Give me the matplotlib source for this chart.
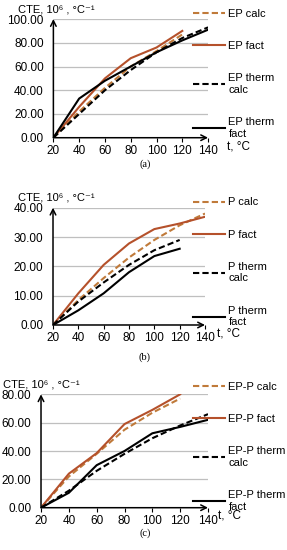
import matplotlib.pyplot as plt
from matplotlib.ticker import FormatStrFormatter

plt.rcParams['font.family'] = ['Liberation Sans Narrow', 'Liberation Sans', 'DejaVu Sans']

# temperature, degC
t = [20, 40, 60, 80, 100, 120, 140]

# (a) EP
ep_calc = [0, 22, 42, 60, 73, 87]
ep_fact = [0, 26, 50, 67, 76, 90]
ep_therm_calc = [0, 20, 40, 57, 72, 84, 93]
ep_therm_fact = [0, 33, 48, 60, 72, 82, 91]

# (b) P
p_calc = [0, 8.5, 16, 23, 29, 34, 38]
p_fact = [0, 10.8, 20.5, 27.8, 32.7, 34.6, 36.9]
p_therm_calc = [0, 8, 14.5, 20.5, 25.5, 29]
p_therm_fact = [0, 5, 10.8, 18, 23.5, 26]

# (c) EP-P
epp_calc = [0, 22, 38, 55, 67, 77]
epp_fact = [0, 24, 38.5, 59, 69, 80]
epp_therm_calc = [0, 12, 26, 38, 49, 58, 66]
epp_therm_fact = [0, 10.5, 30, 40, 52.5, 57, 62]

calc_color = '#C07A3A'
fact_color = '#B5512B'
dash = (0, (3, 1.5))

panels = [
    dict(name='EP', series=[ep_calc, ep_fact, ep_therm_calc, ep_therm_fact],
         ymax=100, ystep=20, rect=[0.186, 0.7496, 0.539, 0.2158],
         leg=(0.672, 0.984), tlabel=1.12, letter='(a)', ly=0.701),
    dict(name='P', series=[p_calc, p_fact, p_therm_calc, p_therm_fact],
         ymax=40, ystep=10, rect=[0.1847, 0.4091, 0.5296, 0.2133],
         leg=(0.672, 0.641), tlabel=1.08, letter='(b)', ly=0.350),
    dict(name='EP-P', series=[epp_calc, epp_fact, epp_therm_calc, epp_therm_fact],
         ymax=80, ystep=20, rect=[0.1429, 0.0769, 0.5819, 0.2062],
         leg=(0.672, 0.306), tlabel=1.06, letter='(c)', ly=0.030),
]

fig = plt.figure(figsize=(2.87, 5.5), dpi=100)
fs = 8.5

for p in panels:
    ax = fig.add_axes(p['rect'])
    calc, fact, tcalc, tfact = p['series']
    n = p['name']
    ax.plot(t[:len(calc)], calc, color=calc_color, lw=1.5, linestyle=dash, label=n + ' calc')
    ax.plot(t[:len(fact)], fact, color=fact_color, lw=1.5, label=n + ' fact')
    ax.plot(t[:len(tcalc)], tcalc, color='black', lw=1.5, linestyle=dash, label=n + ' therm\ncalc')
    ax.plot(t[:len(tfact)], tfact, color='black', lw=1.5, label=n + ' therm\nfact')

    ax.set_xlim(20, 140)
    ax.set_ylim(0, p['ymax'])
    ax.set_xticks(t)
    ax.set_yticks(range(0, p['ymax'] + 1, p['ystep']))
    ax.yaxis.set_major_formatter(FormatStrFormatter('%.2f'))
    ax.tick_params(axis='y', length=0, pad=7, labelsize=fs)
    ax.tick_params(axis='x', length=3, width=0.8, pad=2, labelsize=fs)
    ax.grid(axis='y', color='#BFBFBF', lw=0.9)
    ax.set_axisbelow(True)
    for s in ax.spines.values():
        s.set_visible(False)
    ax.annotate('', xy=(1, 0), xytext=(0, 0), xycoords='axes fraction',
                arrowprops=dict(arrowstyle='->', color='black', lw=1.1, shrinkA=0, shrinkB=0))
    ax.annotate('', xy=(0, 1), xytext=(0, 0), xycoords='axes fraction',
                arrowprops=dict(arrowstyle='->', color='black', lw=1.1, shrinkA=0, shrinkB=0))

    ax.text(-0.23, 1.04, 'CTE, 10⁶ , °C⁻¹', transform=ax.transAxes,
            fontsize=8, ha='left', va='bottom')
    ax.text(p['tlabel'], -0.02, 't, °C', transform=ax.transAxes,
            fontsize=fs, ha='left', va='top')
    fig.text(0.505, p['ly'], p['letter'], fontsize=7.5, ha='center', va='center',
             family=['Liberation Serif', 'DejaVu Serif'])

    ax.legend(loc='upper left', bbox_to_anchor=p['leg'], bbox_transform=fig.transFigure,
              frameon=False, fontsize=8, borderpad=0, handlelength=2.9,
              handletextpad=0.3, labelspacing=2.0, borderaxespad=0)

fig.savefig('out.png', dpi=100)
